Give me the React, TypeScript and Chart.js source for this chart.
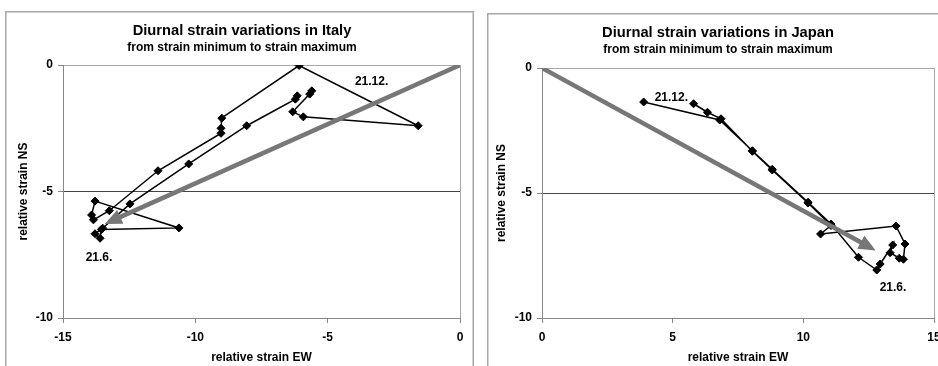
import React, { useEffect, useRef } from 'react';
import { Chart, registerables } from 'chart.js';

Chart.register(...registerables);

const FONT = 'Arial, "Liberation Sans", Helvetica, sans-serif';

// ---- Italy data (relative strain EW / NS) ----
const italyEW = [-6.15, -6.22, -8.06, -10.25, -12.47, -13.5, -13.79, -13.6, -13.55, -10.62, -13.79, -13.92, -13.85, -13.25, -11.41, -9.03, -9.03, -9.0, -6.08, -1.58, -5.92, -6.32, -5.68, -5.6];
const italyNS = [-1.22, -1.35, -2.4, -3.91, -5.49, -6.45, -6.67, -6.85, -6.5, -6.44, -5.38, -5.93, -6.12, -5.76, -4.18, -2.7, -2.5, -2.1, -0.02, -2.4, -2.05, -1.85, -1.15, -1.02];
const italyArrowEW = [0, -13.25];
const italyArrowNS = [0, -6.2];
const italyXTicks = [-15, -10, -5, 0];
const italyLabelText = ['21.12.', '21.6.'];
const italyLabelEW = [-3.34, -13.64];
const italyLabelNS = [-0.65, -7.6];

// ---- Japan data ----
const japanEW = [3.89, 6.8, 8.05, 8.81, 10.18, 11.06, 12.11, 12.81, 12.94, 13.42, 13.32, 13.67, 13.83, 13.89, 13.55, 10.66, 11.06, 10.18, 8.81, 8.05, 6.85, 6.33, 5.8];
const japanNS = [-1.36, -2.08, -3.31, -4.05, -5.37, -6.24, -7.57, -8.08, -7.84, -7.08, -7.39, -7.61, -7.65, -7.04, -6.32, -6.64, -6.3, -5.4, -4.08, -3.33, -2.03, -1.77, -1.43];
const japanArrowEW = [0, 12.6];
const japanArrowNS = [0, -7.2];
const japanXTicks = [0, 5, 10, 15];
const japanLabelText = ['21.12.', '21.6.'];
const japanLabelEW = [4.95, 13.43];
const japanLabelNS = [-1.17, -8.77];

const yTicks = [0, -5, -10];

type Cfg = {
  title: string;
  subtitle: string;
  ew: number[];
  ns: number[];
  arrowEW: number[];
  arrowNS: number[];
  xTicks: number[];
  xMin: number;
  xMax: number;
  labelText: string[];
  labelEW: number[];
  labelNS: number[];
  width: number;
  height: number;
  yAxisWidth: number;
  yTitlePad: number;
  padTop: number;
  padRight: number;
  titleX: number;
};

function makeChart(canvas: HTMLCanvasElement, c: Cfg) {
  const pts = c.ew.map((x, i) => ({ x, y: c.ns[i] }));
  const arrow = c.arrowEW.map((x, i) => ({ x, y: c.arrowNS[i] }));

  const decor = {
    id: 'decor',
    beforeDraw(chart: any) {
      const ctx = chart.ctx;
      const w = chart.width;
      const h = chart.height;
      ctx.save();
      ctx.fillStyle = '#fff';
      ctx.fillRect(0, 0, w, h);
      ctx.strokeStyle = '#a8a8a8';
      ctx.lineWidth = 1.5;
      ctx.beginPath();
      ctx.moveTo(0.75, h);
      ctx.lineTo(0.75, 0.75);
      ctx.lineTo(w - 0.75, 0.75);
      ctx.lineTo(w - 0.75, h);
      ctx.stroke();
      // titles
      ctx.fillStyle = '#000';
      ctx.textAlign = 'center';
      ctx.textBaseline = 'middle';
      ctx.font = `bold 14.7px ${FONT}`;
      ctx.fillText(c.title, c.titleX, 19.5);
      ctx.font = `bold 12px ${FONT}`;
      ctx.fillText(c.subtitle, c.titleX, 36.5);
      ctx.restore();
    },
    beforeDatasetsDraw(chart: any) {
      const { ctx, chartArea } = chart;
      ctx.save();
      ctx.strokeStyle = '#a8a8a8';
      ctx.lineWidth = 1;
      ctx.beginPath();
      ctx.moveTo(Math.round(chartArea.right) + 0.5, chartArea.top);
      ctx.lineTo(Math.round(chartArea.right) + 0.5, chartArea.bottom);
      ctx.stroke();
      ctx.restore();
    },
    afterDatasetsDraw(chart: any) {
      const { ctx } = chart;
      const xs = chart.scales.x;
      const ys = chart.scales.y;
      const n = arrow.length;
      const p0x = xs.getPixelForValue(arrow[n - 2].x);
      const p0y = ys.getPixelForValue(arrow[n - 2].y);
      const p1x = xs.getPixelForValue(arrow[n - 1].x);
      const p1y = ys.getPixelForValue(arrow[n - 1].y);
      const dx = p1x - p0x;
      const dy = p1y - p0y;
      const len = Math.hypot(dx, dy);
      const ux = dx / len;
      const uy = dy / len;
      const tipX = p1x + ux * 5;
      const tipY = p1y + uy * 5;
      const L = 17;
      const W = 7.5;
      const bx = tipX - ux * L;
      const by = tipY - uy * L;
      ctx.save();
      ctx.fillStyle = '#777';
      ctx.beginPath();
      ctx.moveTo(tipX, tipY);
      ctx.lineTo(bx - uy * W, by + ux * W);
      ctx.lineTo(bx + uy * W, by - ux * W);
      ctx.closePath();
      ctx.fill();
      // date labels
      ctx.fillStyle = '#000';
      ctx.font = `bold 12px ${FONT}`;
      ctx.textAlign = 'center';
      ctx.textBaseline = 'middle';
      c.labelText.forEach((t, i) => {
        ctx.fillText(t, xs.getPixelForValue(c.labelEW[i]), ys.getPixelForValue(c.labelNS[i]));
      });
      ctx.restore();
    },
  };

  return new Chart(canvas, {
    type: 'scatter',
    data: {
      datasets: [
        {
          data: arrow,
          showLine: true,
          borderColor: '#777',
          borderWidth: 4.5,
          pointRadius: 0,
          borderCapStyle: 'butt',
        } as any,
        {
          data: pts,
          showLine: true,
          borderColor: '#000',
          borderWidth: 1.5,
          pointStyle: 'rectRot',
          pointRadius: 4,
          pointBackgroundColor: '#000',
          pointBorderColor: '#000',
          pointBorderWidth: 1,
        } as any,
      ],
    },
    options: {
      animation: false,
      responsive: false,
      devicePixelRatio: 1,
      events: [],
      layout: { padding: { left: 0, right: c.padRight, top: c.padTop, bottom: 0 } },
      plugins: {
        legend: { display: false },
        tooltip: { enabled: false },
        title: { display: false },
      },
      scales: {
        x: {
          type: 'linear',
          min: c.xMin,
          max: c.xMax,
          afterBuildTicks: (s: any) => {
            s.ticks = c.xTicks.map((v) => ({ value: v }));
          },
          afterFit: (s: any) => {
            s.height = 48;
          },
          ticks: {
            font: { family: FONT, size: 12, weight: 'bold' },
            color: '#000',
            padding: 7,
            maxRotation: 0,
            autoSkip: false,
          },
          grid: {
            drawOnChartArea: false,
            drawTicks: true,
            tickLength: 5,
            tickColor: '#888',
          },
          border: { color: '#888', width: 1 },
          title: {
            display: true,
            text: 'relative strain EW',
            font: { family: FONT, size: 12, weight: 'bold' },
            color: '#000',
            padding: { top: 0, bottom: 1 },
          },
        },
        y: {
          type: 'linear',
          min: -10,
          max: 0,
          afterBuildTicks: (s: any) => {
            s.ticks = yTicks.map((v) => ({ value: v }));
          },
          afterFit: (s: any) => {
            s.width = c.yAxisWidth;
          },
          ticks: {
            font: { family: FONT, size: 12, weight: 'bold' },
            color: '#000',
            padding: 5,
            autoSkip: false,
          },
          grid: {
            color: (ctx: any) => (ctx.tick && ctx.tick.value === 0 ? '#a8a8a8' : ctx.tick && ctx.tick.value === -10 ? '#888' : '#444'),
            lineWidth: 1,
            drawTicks: true,
            tickLength: 5,
            tickColor: '#888',
          },
          border: { color: '#888', width: 1 },
          title: {
            display: true,
            text: 'relative strain NS',
            font: { family: FONT, size: 12, weight: 'bold' },
            color: '#000',
            padding: { top: c.yTitlePad, bottom: 0 },
          },
        },
      },
    } as any,
    plugins: [decor],
  });
}

function ChartBox({ cfg, left, top }: { cfg: Cfg; left: number; top: number }) {
  const ref = useRef<HTMLCanvasElement | null>(null);
  useEffect(() => {
    if (!ref.current) return;
    const ch = makeChart(ref.current, cfg);
    return () => ch.destroy();
  }, []);
  return (
    <canvas
      ref={ref}
      width={cfg.width}
      height={cfg.height}
      style={{ position: 'absolute', left, top, width: cfg.width, height: cfg.height }}
    />
  );
}

const italyCfg: Cfg = {
  title: 'Diurnal strain variations in Italy',
  subtitle: 'from strain minimum to strain maximum',
  ew: italyEW,
  ns: italyNS,
  arrowEW: italyArrowEW,
  arrowNS: italyArrowNS,
  xTicks: italyXTicks,
  xMin: -15,
  xMax: 0,
  labelText: italyLabelText,
  labelEW: italyLabelEW,
  labelNS: italyLabelNS,
  width: 469,
  height: 355,
  yAxisWidth: 58,
  yTitlePad: 11,
  padTop: 54,
  padRight: 14,
  titleX: 237,
};

const japanCfg: Cfg = {
  title: 'Diurnal strain variations in Japan',
  subtitle: 'from strain minimum to strain maximum',
  ew: japanEW,
  ns: japanNS,
  arrowEW: japanArrowEW,
  arrowNS: japanArrowNS,
  xTicks: japanXTicks,
  xMin: 0,
  xMax: 15,
  labelText: japanLabelText,
  labelEW: japanLabelEW,
  labelNS: japanLabelNS,
  width: 462,
  height: 353,
  yAxisWidth: 55,
  yTitlePad: 7,
  padTop: 55,
  padRight: 15,
  titleX: 231,
};

export default function App() {
  return (
    <div
      style={{
        position: 'fixed',
        left: 0,
        top: 0,
        width: 938,
        height: 366,
        overflow: 'hidden',
        background: '#fff',
      }}
    >
      <ChartBox cfg={italyCfg} left={5} top={11} />
      <ChartBox cfg={japanCfg} left={487} top={13} />
    </div>
  );
}
